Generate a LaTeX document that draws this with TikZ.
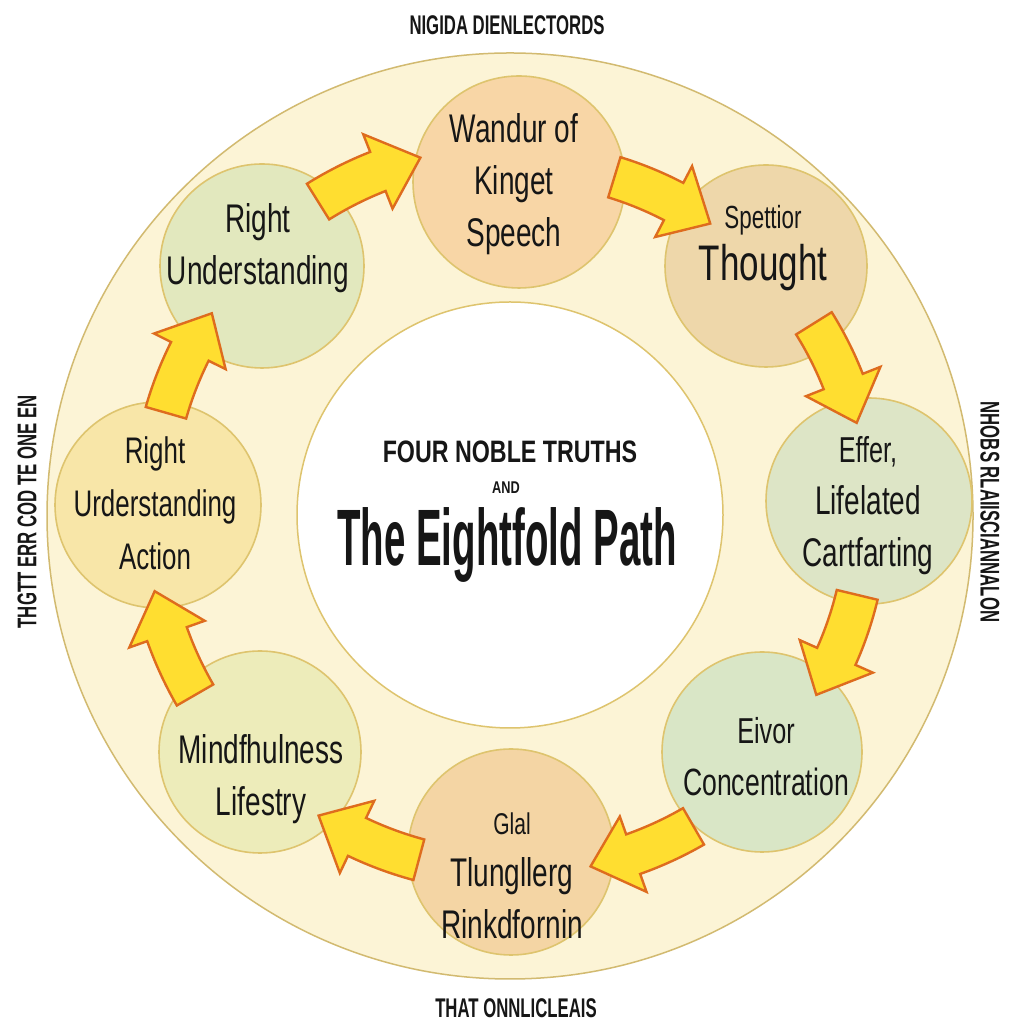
\documentclass[tikz,border=0pt]{standalone}
\usepackage{fontspec}
\setmainfont{Liberation Sans}
\newfontfamily\condfont[FakeStretch=0.7]{Liberation Sans}
\newfontfamily\labelfont[FakeStretch=0.62]{Liberation Sans}
\newfontfamily\headfont[FakeStretch=0.75]{Liberation Sans}
\newfontfamily\titlefont[FakeStretch=0.48]{Liberation Sans}
\usetikzlibrary{calc, positioning}

\definecolor{ringcream}{RGB}{252,244,214}
\definecolor{ringgold}{RGB}{210,186,112}
\definecolor{petalgold}{RGB}{222,196,110}
\definecolor{arrowyellow}{RGB}{255,222,48}
\definecolor{arroworange}{RGB}{222,108,30}
\definecolor{inkdark}{RGB}{22,22,22}
\definecolor{peachfill}{RGB}{248,214,166}
\definecolor{tanfill}{RGB}{238,215,170}
\definecolor{sagefill}{RGB}{221,229,198}
\definecolor{mintfill}{RGB}{217,230,198}
\definecolor{oatfill}{RGB}{244,213,164}
\definecolor{olivefill}{RGB}{237,236,186}
\definecolor{strawfill}{RGB}{248,230,168}
\definecolor{leaffill}{RGB}{226,232,190}

\begin{document}
\begin{tikzpicture}[x=1pt, y=1pt,
  petal/.style={circle, draw=petalgold, line width=1.6pt, minimum size=#1, inner sep=0pt},
  petaltext/.style={align=center, text=inkdark, font=\condfont\fontsize{40}{52}\selectfont},
  blockarrow/.style={draw=arroworange, fill=arrowyellow, line width=2.4pt, line join=miter},
  ringlabel/.style={text=inkdark, font=\labelfont\bfseries\fontsize{27}{32}\selectfont}]
\useasboundingbox[fill=white] (0,0) rectangle (1024,1024);

% Outer ring and the white hub
\draw[ringgold, line width=1.5pt, fill=ringcream] (510,508) circle[radius=463pt];
\draw[petalgold, line width=1.5pt, fill=white] (510,509) circle[radius=213pt];

% The eight circles
\node[petal=212pt, fill=peachfill] (speech) at (519,842) {};
\node[petal=202pt, fill=tanfill] (thought) at (766,758) {};
\node[petal=206pt, fill=sagefill] (effort) at (869,523) {};
\node[petal=200pt, fill=mintfill] (concentration) at (762,272) {};
\node[petal=206pt, fill=oatfill] (livelihood) at (511,172) {};
\node[petal=202pt, fill=olivefill] (mindfulness) at (260,272) {};
\node[petal=206pt, fill=strawfill] (action) at (158,519) {};
\node[petal=204pt, fill=leaffill] (understanding) at (262,758) {};

% Block arrows, clockwise round the ring
\begin{scope}[shift={(512,512)}]
\foreach \tailang/\rad in {122/366, 73/350, 32/356, -13.5/355, -60/363, -105/360, 210/366, 164/360} {
  \pgfmathsetmacro{\neckang}{\tailang-10.5}
  \pgfmathsetmacro{\tipang}{\tailang-17.5}
  \pgfmathsetmacro{\shaftout}{\rad+21}
  \pgfmathsetmacro{\shaftin}{\rad-21}
  \pgfmathsetmacro{\headout}{\rad+40}
  \pgfmathsetmacro{\headin}{\rad-40}
  \draw[blockarrow] (\tailang:\shaftout)
    arc[start angle=\tailang, end angle=\neckang, radius=\shaftout pt]
    -- (\neckang:\headout) -- (\tipang:\rad) -- (\neckang:\headin) -- (\neckang:\shaftin)
    arc[start angle=\neckang, end angle=\tailang, radius=\shaftin pt] -- cycle;
}
\end{scope}

% Circle texts
\node[petaltext] (speech-text) at (514,840) {Wandur of\\Kinget\\Speech};
\node[petaltext] (thought-text) at (763,776) {{\fontsize{32}{52}\selectfont Spettior}\\{\fontsize{50}{52}\selectfont Thought}};
\node[petaltext] (effort-text) at (868,518) {{\fontsize{36}{52}\selectfont Effer,}\\Lifelated\\Cartfarting};
\node[petaltext] (concentration-text) at (766,267) {{\fontsize{36}{52}\selectfont Eivor}\\{\fontsize{38}{52}\selectfont Concentration}};
\node[petaltext] (livelihood-text) at (512,148) {{\fontsize{30}{52}\selectfont Glal}\\Tlungllerg\\Rinkdfornin};
\node[petaltext] (mindfulness-text) at (261,245) {Mindfhulness\\Lifestry};
\node[petaltext, font=\condfont\fontsize{37}{53}\selectfont] (action-text) at (155,521) {Right\\Urderstanding\\Action};
\node[petaltext] (understanding-text) at (258,776) {Right\\Understanding};

% Hub title
\node[text=inkdark, font=\headfont\bfseries\fontsize{31}{36}\selectfont] (truths) at (510,572) {FOUR NOBLE TRUTHS};
\node[text=inkdark, font=\headfont\bfseries\fontsize{17}{20}\selectfont] (and) at (506,536) {AND};
\node[text=inkdark, font=\titlefont\bfseries\fontsize{80}{90}\selectfont] (path) at (507,479) {The Eightfold Path};

% Labels round the ring
\node[ringlabel] (toplabel) at (507,999) {NIGIDA DIENLECTORDS};
\node[ringlabel] (bottomlabel) at (516,16) {THAT ONNLICLEAIS};
\node[ringlabel, rotate=90] (leftlabel) at (27,512) {THGTT ERR COD TE ONE EN};
\node[ringlabel, rotate=-90] (rightlabel) at (990,512) {NHOBS RLAIISCIANNALON};
\end{tikzpicture}
\end{document}
